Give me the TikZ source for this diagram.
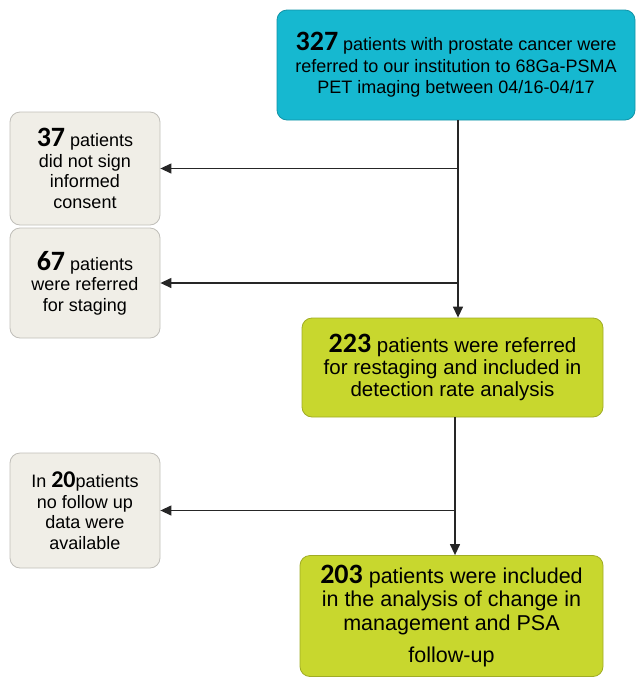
\documentclass[tikz,border=0pt]{standalone}
\usepackage{fontspec}
\setmainfont{Liberation Sans}
\newfontfamily\numfont{Carlito}
\usetikzlibrary{arrows.meta}

\definecolor{studycyan}{RGB}{22,184,208}
\definecolor{studygreen}{RGB}{200,215,46}
\definecolor{studygrey}{RGB}{240,238,231}

% bold patient counts
\newcommand{\cnt}[2][28]{{\numfont\bfseries\fontsize{#1}{20}\selectfont #2}}

\tikzset{
  box/.style={rounded corners=10pt, align=center, inner sep=0pt, line width=0.8pt},
  mainbox/.style={box, fill=studycyan, draw=studycyan!80!black, font=\fontsize{18}{21.5}\selectfont},
  keepbox/.style={box, fill=studygreen, draw=studygreen!80!black, font=\fontsize{21.5}{23.5}\selectfont},
  outbox/.style={box, fill=studygrey, draw=studygrey!80!black, font=\fontsize{18}{20.5}\selectfont},
  flow/.style={line width=1.3pt, draw=black!85, -{Triangle[length=11pt,width=10pt]}}
}

\begin{document}
\begin{tikzpicture}[x=1pt,y=-1pt]
  \useasboundingbox (0,0) rectangle (636,678);

  % main column
  \node[mainbox, minimum width=358pt, minimum height=110pt] (referred) at (456,65)
    {\cnt{327} patients with prostate cancer were\\
     referred to our institution to 68Ga-PSMA\\
     PET imaging between 04/16-04/17};
  \node[keepbox, font=\fontsize{20.5}{22}\selectfont, minimum width=301pt, minimum height=99pt] (restaging) at (452.5,367.5)
    {\cnt{223} patients were referred\\
     for restaging and included in\\
     detection rate analysis};
  \node[keepbox, minimum width=303pt, minimum height=121pt] (included) at (451.5,616)
    {\cnt{203} patients were included\\
     in the analysis of change in\\
     management and PSA\\[9pt]
     follow-up};

  % excluded patients
  \node[outbox, minimum width=150pt, minimum height=113pt] (noconsent) at (85,168.5)
    {\cnt{37} patients\\ did not sign\\ informed\\ consent};
  \node[outbox, minimum width=150pt, minimum height=110pt] (staging) at (85,283)
    {\cnt{67} patients\\ were referred\\ for staging};
  \node[outbox, minimum width=150pt, minimum height=115pt] (nofollow) at (85,510.5)
    {In \cnt[24]{20}patients\\ no follow up\\ data were\\ available};

  % arrows
  \draw[flow] (referred.south -| 458,0) -- (restaging.north -| 458,0);
  \draw[flow] (noconsent.east -| 458,0) -- (noconsent.east);
  \draw[flow] (staging.east -| 458,0) -- (staging.east);
  \draw[flow] (restaging.south -| 455,0) -- (included.north -| 455,0);
  \draw[flow] (nofollow.east -| 455,0) -- (nofollow.east);
\end{tikzpicture}
\end{document}
